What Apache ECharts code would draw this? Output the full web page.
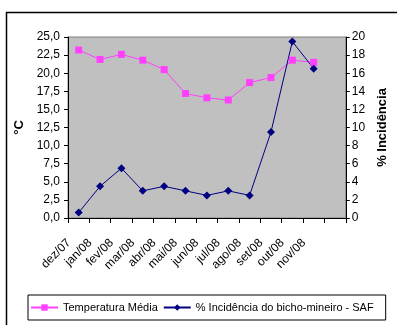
<!DOCTYPE html>
<html><head><meta charset="utf-8">
<script src="https://cdn.jsdelivr.net/npm/echarts@6/dist/echarts.min.js"></script>
<style>html,body{margin:0;padding:0;background:#fff}#c{width:397px;height:325px}</style>
</head><body><div id="c"></div>
<script>
const categories = ['dez/07','jan/08','fev/08','mar/08','abr/08','mai/08','jun/08','jul/08','ago/08','set/08','out/08','nov/08',''];
const temperatura = [23.2, 21.9, 22.6, 21.8, 20.5, 17.2, 16.6, 16.3, 18.7, 19.4, 21.8, 21.5, null];
const incidencia = [0.6, 3.5, 5.5, 3.0, 3.5, 3.0, 2.5, 3.0, 2.5, 9.5, 19.5, 16.5, null];
const leftTicks = {min: 0, max: 25, interval: 2.5};
const rightTicks = {min: 0, max: 20, interval: 2};
const FONT = "'Liberation Sans Narrow', 'Liberation Sans', Arial, sans-serif";
const chart = echarts.init(document.getElementById('c'));
chart.setOption({
  animation: false,
  backgroundColor: '#fff',
  graphic: [{type:'rect', shape:{x:6.5,y:12.5,width:400,height:320}, style:{fill:'none', stroke:'#000', lineWidth:1.5}, z:-1}],
  grid: {left: 68, right: 44, top: 37, bottom: 107, show: true, backgroundColor: '#c0c0c0', borderColor: '#808080', borderWidth: 1},
  legend: {
    orient: 'horizontal',
    top: 295, left: 28, width: 368,
    padding: [7, 12, 7, 2],
    borderColor: '#000', borderWidth: 1,
    itemWidth: 27, itemHeight: 8, itemGap: 5,
    textStyle: {fontFamily: FONT, fontSize: 11, color: '#000'},
    data: ['Temperatura Média', '% Incidência do bicho-mineiro - SAF']
  },
  xAxis: {
    type: 'category', data: categories, boundaryGap: true,
    axisLine: {lineStyle: {color: '#000', width: 1}},
    axisTick: {show: true, length: 5, lineStyle: {color: '#000'}, alignWithLabel: false},
    axisLabel: {rotate: 45, interval: 0, fontFamily: FONT, fontSize: 12, color: '#000', margin: 13, padding: [0, 14, 0, 0]},
    splitLine: {show: false}
  },
  yAxis: [{
    type: 'value', min: leftTicks.min, max: leftTicks.max, interval: leftTicks.interval,
    name: '°C', nameLocation: 'middle', nameGap: 26, nameRotate: 90,
    nameTextStyle: {fontFamily: 'Arial, sans-serif', fontWeight: 'bold', fontSize: 13, color: '#000'},
    axisLine: {show: true, lineStyle: {color: '#000'}},
    axisTick: {show: true, length: 4, lineStyle: {color: '#000'}},
    axisLabel: {fontFamily: FONT, fontSize: 12, color: '#000', margin: 8, formatter: v => v.toFixed(1).replace('.', ',')},
    splitLine: {show: false}
  }, {
    type: 'value', min: rightTicks.min, max: rightTicks.max, interval: rightTicks.interval, position: 'right',
    name: '% Incidência', nameLocation: 'middle', nameGap: 30, nameRotate: 90,
    nameTextStyle: {fontFamily: 'Arial, sans-serif', fontWeight: 'bold', fontSize: 13, color: '#000'},
    axisLine: {show: true, lineStyle: {color: '#000'}},
    axisTick: {show: true, length: 4, lineStyle: {color: '#000'}},
    axisLabel: {fontFamily: FONT, fontSize: 12, color: '#000', margin: 6},
    splitLine: {show: false}
  }],
  series: [{
    name: 'Temperatura Média', type: 'line', yAxisIndex: 0, data: temperatura,
    symbol: 'rect', symbolSize: 7,
    lineStyle: {color: '#ff40ff', width: 1},
    itemStyle: {color: '#ff40ff'}
  }, {
    name: '% Incidência do bicho-mineiro - SAF', type: 'line', yAxisIndex: 1, data: incidencia,
    symbol: 'diamond', symbolSize: 8,
    lineStyle: {color: '#000080', width: 1},
    itemStyle: {color: '#000080'}
  }]
});
</script></body></html>
